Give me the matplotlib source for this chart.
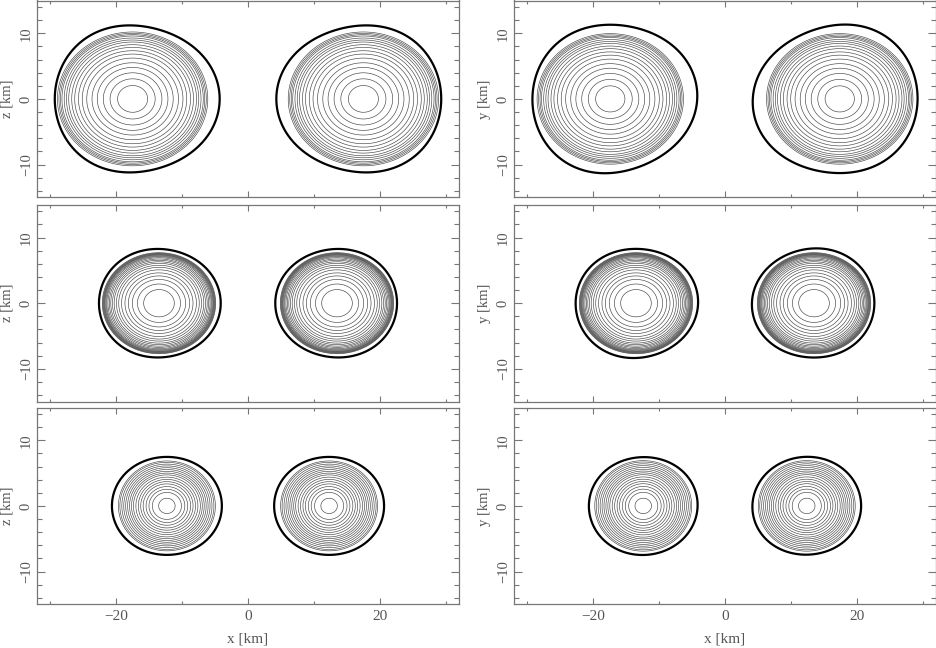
import numpy as np
import matplotlib
matplotlib.use("Agg")
import matplotlib.pyplot as plt
from matplotlib.ticker import MultipleLocator

plt.rcParams['font.family'] = ['Liberation Serif', 'DejaVu Serif']

# rows: early, middle, late snapshot ; left column x-z plane, right column x-y plane
# centre of the left star (right star is its mirror / point image)
centre_xz = [-17.5, -13.5, -12.3]
centre_xy = [-17.4, -13.5, -12.4]

# surface (thick) contour: mean radius and fourier terms a1..a3 (cos), b1..b3 (sin)
surf_r0_xz = [11.85, 8.75, 7.9]
surf_cos_xz = [[0.037, 0.055, 0.022], [0.007, 0.055, 0.008], [0.0, 0.055, 0.0]]
surf_r0_xy = [11.9, 8.8, 7.85]
surf_cos_xy = [[0.036, 0.05, 0.022], [0.007, 0.055, 0.008], [0.0, 0.05, 0.0]]
surf_sin_xy = [[0.006, 0.015, 0.006], [0.0, 0.008, 0.004], [0.0, 0.006, 0.003]]

# semi axes of the outermost thin density contour
inner_axes_xz = [(11.4, 10.2), (8.6, 7.7), (7.35, 6.85)]
inner_axes_xy = [(11.1, 9.95), (8.6, 7.7), (7.35, 6.9)]

# thin density contours, as fraction of the outermost one
levels_top = [0.20, 0.30, 0.39, 0.47, 0.54, 0.61, 0.67, 0.72, 0.77, 0.81,
              0.85, 0.88, 0.91, 0.94, 0.96, 0.98, 1.0]
levels_mid = [0.27, 0.38, 0.47, 0.54, 0.60, 0.66, 0.71, 0.75, 0.79, 0.82,
              0.85, 0.875, 0.90, 0.92, 0.935, 0.95, 0.96, 0.97, 0.98, 0.99, 1.0]
levels_bot = [0.17, 0.30, 0.37, 0.43, 0.49, 0.54, 0.59, 0.64, 0.69, 0.73,
              0.77, 0.81, 0.85, 0.89, 0.93, 0.97, 1.0]
row_levels = [levels_top, levels_mid, levels_bot]

x = np.linspace(-32, 32, 900)
y = np.linspace(-15, 15, 450)
X, Y = np.meshgrid(x, y)


def star_fields(dx, dy, r0, ca, sb, axes_ab):
    r = np.hypot(dx, dy)
    th = np.arctan2(dy, dx)
    shape = 1.0
    for n in range(3):
        shape = shape + ca[n] * np.cos((n + 1) * th) + sb[n] * np.sin((n + 1) * th)
    u = r / (r0 * shape)
    q = np.hypot(dx / axes_ab[0], dy / axes_ab[1])
    return u, q


W, H = 937, 648
fig = plt.figure(figsize=(W / 100, H / 100), dpi=100)
col_left = [37, 514]
ax_w = 422
row_bottom = [197.3, 401.6, 604.3]
ax_h = 196.8
grey = '#777777'
text_grey = '#555555'

for row in range(3):
    for col in range(2):
        ax = fig.add_axes([col_left[col] / W, (H - row_bottom[row]) / H,
                           ax_w / W, ax_h / H])
        if col == 0:
            xc = centre_xz[row]
            r0 = surf_r0_xz[row]
            ca = surf_cos_xz[row]
            sb = [0.0, 0.0, 0.0]
            ab = inner_axes_xz[row]
            flip = 1.0
        else:
            xc = centre_xy[row]
            r0 = surf_r0_xy[row]
            ca = surf_cos_xy[row]
            sb = surf_sin_xy[row]
            ab = inner_axes_xy[row]
            flip = -1.0
        u1, q1 = star_fields(X - xc, Y, r0, ca, sb, ab)
        u2, q2 = star_fields(-(X + xc), flip * Y, r0, ca, sb, ab)
        U = np.minimum(u1, u2)
        Q = np.minimum(q1, q2)
        ax.contour(X, Y, Q, levels=row_levels[row], colors='#444444', linewidths=0.45)
        ax.contour(X, Y, U, levels=[1.0], colors='k', linewidths=1.6)

        ax.set_xlim(-32, 32)
        ax.set_ylim(-15, 15)
        ax.xaxis.set_major_locator(MultipleLocator(20))
        ax.xaxis.set_minor_locator(MultipleLocator(10))
        ax.yaxis.set_major_locator(MultipleLocator(10))
        ax.yaxis.set_minor_locator(MultipleLocator(2))
        ax.tick_params(which='both', direction='in', top=True, right=True,
                       color=grey, width=0.8, labelcolor=text_grey, labelsize=11)
        ax.tick_params(axis='x', which='major', length=4.5, pad=4)
        ax.tick_params(axis='x', which='minor', length=2.5)
        ax.tick_params(axis='y', which='major', length=5.5, pad=3, labelsize=10.5)
        ax.tick_params(axis='y', which='minor', length=3.5)
        for lab in ax.get_yticklabels():
            lab.set_rotation(90)
            lab.set_va('center')
        for sp in ax.spines.values():
            sp.set_color(grey)
            sp.set_linewidth(0.9)

        ax.set_ylabel('z [km]' if col == 0 else 'y [km]', color=text_grey, fontsize=10.5)
        ax.yaxis.set_label_coords(-0.055, 0.5)
        if row == 2:
            ax.set_xlabel('x [km]', color=text_grey, fontsize=11)
            ax.xaxis.set_label_coords(0.5, -0.143)
        else:
            ax.set_xticklabels([])

fig.savefig('out.png', dpi=100)
